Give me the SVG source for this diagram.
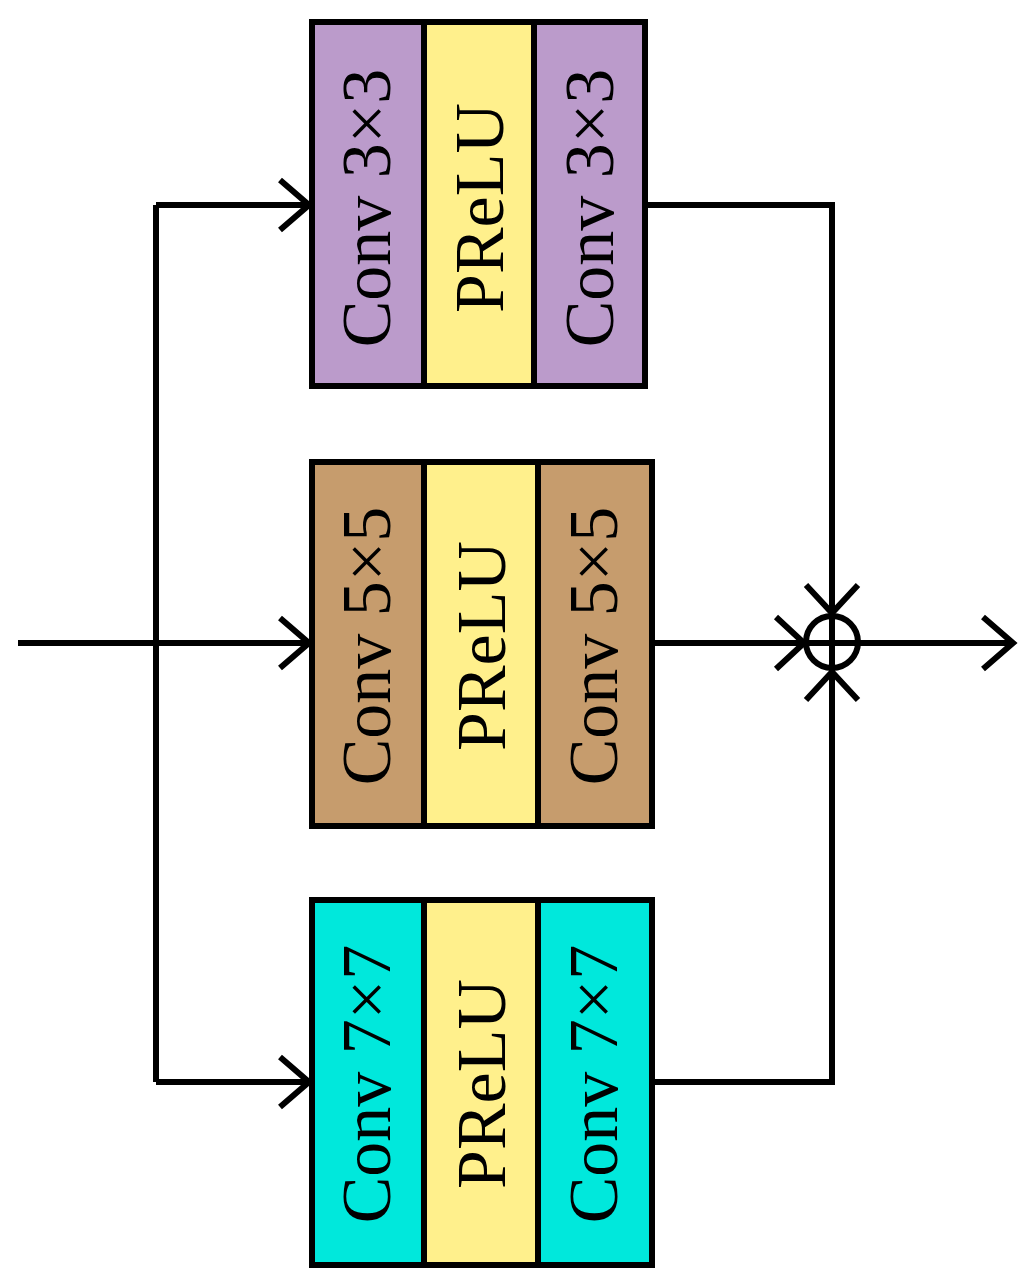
<svg xmlns="http://www.w3.org/2000/svg" width="1035" height="1285" viewBox="0 0 1035 1285">
<style>
.b{stroke:#000;stroke-width:6}
.t{font-family:"Liberation Serif",serif;font-size:70px;text-anchor:middle;dominant-baseline:central}
.l{fill:none;stroke:#000;stroke-width:6}
</style>
<rect width="1035" height="1285" fill="#fff"/>
<g id="top">
<rect class="b" x="312" y="22" width="112" height="364" fill="#bb9bcb"/>
<rect class="b" x="424" y="22" width="110" height="364" fill="#fff08c"/>
<rect class="b" x="534" y="22" width="111" height="364" fill="#bb9bcb"/>
<text class="t" transform="translate(366,208) rotate(-90)">Conv 3×3</text>
<text class="t" transform="translate(479,208) rotate(-90)">PReLU</text>
<text class="t" transform="translate(589,208) rotate(-90)">Conv 3×3</text>
</g>
<g id="mid">
<rect class="b" x="312" y="462" width="112" height="364" fill="#c69c6d"/>
<rect class="b" x="424" y="462" width="114" height="364" fill="#fff08c"/>
<rect class="b" x="538" y="462" width="114" height="364" fill="#c69c6d"/>
<text class="t" transform="translate(366,646) rotate(-90)">Conv 5×5</text>
<text class="t" transform="translate(481,646) rotate(-90)">PReLU</text>
<text class="t" transform="translate(593,646) rotate(-90)">Conv 5×5</text>
</g>
<g id="bot">
<rect class="b" x="312" y="900" width="112" height="365" fill="#00e8dc"/>
<rect class="b" x="424" y="900" width="114" height="365" fill="#fff08c"/>
<rect class="b" x="538" y="900" width="114" height="365" fill="#00e8dc"/>
<text class="t" transform="translate(366,1084) rotate(-90)">Conv 7×7</text>
<text class="t" transform="translate(481,1084) rotate(-90)">PReLU</text>
<text class="t" transform="translate(593,1084) rotate(-90)">Conv 7×7</text>
</g>
<g id="sum">
<circle class="l" cx="832" cy="642" r="26"/>
</g>
<g id="connectors" class="l">
<path d="M18 643H309M156 205V1082M156 205H309M156 1082H309"/>
<path d="M280 180L309 205L280 230M280 618L309 643L280 668M280 1057L309 1082L280 1107"/>
<path d="M645 205H832V1082H652M652 643H1013"/>
<path d="M776 617L804 643L776 669M983 617L1013 643L983 669M806 585L832 613L858 585M806 700L832 672L858 700"/>
</g>
</svg>
